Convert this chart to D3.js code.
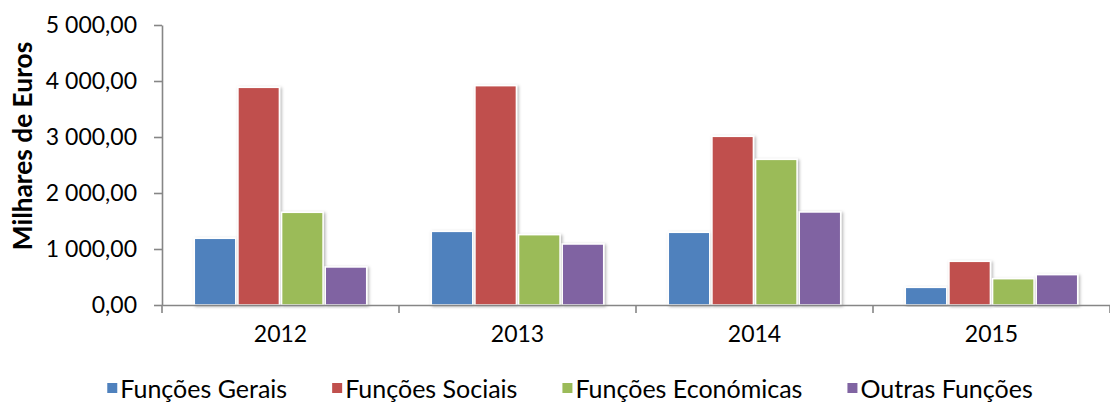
<!DOCTYPE html>
<html>
<head>
<meta charset="utf-8">
<script src="https://cdn.jsdelivr.net/npm/d3@7"></script>
<style>
  body { margin: 0; background: #fff; }
  text { font-family: Lato, "Open Sans", sans-serif; fill: #000; }
</style>
</head>
<body>
<div class="chart"></div>
<script>
var years = ["2012", "2013", "2014", "2015"];
var series = ["Funções Gerais", "Funções Sociais", "Funções Económicas", "Outras Funções"];
var colors = ["#4F81BD", "#C0504D", "#9BBB59", "#8064A2"];
var geraisValues = [1191, 1315, 1298, 315];
var sociaisValues = [3887, 3917, 3012, 780];
var economicasValues = [1655, 1256, 2601, 470];
var outrasValues = [679, 1089, 1661, 542];
var yTicks = [0, 1000, 2000, 3000, 4000, 5000];

var values = [geraisValues, sociaisValues, economicasValues, outrasValues];

var width = 1110, height = 405;
var margin = { top: 25, right: 0, bottom: 100, left: 162 };

var svg = d3.select('.chart')
  .append('svg')
    .attr('width', width)
    .attr('height', height);

var defs = svg.append('defs');
var shadow = defs.append('filter')
    .attr('id', 'shadow')
    .attr('x', '-20%').attr('y', '-10%')
    .attr('width', '140%').attr('height', '120%');
shadow.append('feDropShadow')
    .attr('dx', 1.5).attr('dy', 1)
    .attr('stdDeviation', 1.6)
    .attr('flood-color', '#000')
    .attr('flood-opacity', 0.3);

var pt = d3.formatLocale({ decimal: ",", thousands: " ", grouping: [3], currency: ["", " €"] });
var fmt = pt.format(",.2f");

var xScale = d3.scaleBand()
    .domain(years)
    .range([margin.left, width - margin.right]);

var xSeries = d3.scaleBand()
    .domain(series)
    .range([0, xScale.bandwidth()])
    .paddingInner(0.05)
    .paddingOuter(0.74);

var yScale = d3.scaleLinear()
    .domain([0, 5000])
    .range([height - margin.bottom, margin.top]);

// bars
var groups = svg.append('g').selectAll('g')
  .data(years)
  .join('g')
    .attr('transform', function(d) { return `translate(${xScale(d)}, 0)`; });

groups.selectAll('rect')
  .data(function(d, i) { return series.map(function(s, j) { return { s: s, j: j, v: values[j][i] }; }); })
  .join('rect')
    .attr('x', function(d) { return xSeries(d.s); })
    .attr('y', function(d) { return yScale(d.v); })
    .attr('width', xSeries.bandwidth())
    .attr('height', function(d) { return yScale(0) - yScale(d.v); })
    .attr('fill', function(d) { return colors[d.j]; })
    .attr('stroke', '#fff')
    .attr('stroke-width', 1.5)
    .attr('filter', 'url(#shadow)');

// y axis
var yAxis = d3.axisLeft(yScale)
    .tickValues(yTicks)
    .tickFormat(fmt)
    .tickSize(8)
    .tickSizeOuter(0)
    .tickPadding(17);

var gy = svg.append('g')
    .attr('transform', `translate(${margin.left}, 0)`)
    .call(yAxis);
gy.selectAll('text').style('font-size', '23px');

// x axis: line + ticks at category edges, labels in middle
var xAxis = d3.axisBottom(xScale)
    .tickSize(0)
    .tickSizeOuter(0)
    .tickPadding(21);

var gx = svg.append('g')
    .attr('transform', `translate(0, ${yScale(0)})`)
    .call(xAxis);
gx.selectAll('text').style('font-size', '23px');

var edges = years.map(function(d) { return xScale(d); }).concat([xScale.range()[1]]);
gx.selectAll('line.edge')
  .data(edges)
  .join('line')
    .attr('class', 'edge')
    .attr('x1', function(d) { return d; })
    .attr('x2', function(d) { return d; })
    .attr('y1', 0)
    .attr('y2', 8);

svg.selectAll('.domain, .tick line, line.edge')
    .attr('stroke', '#868686')
    .attr('stroke-width', 1.6);

// axis title
svg.append('text')
    .attr('transform', 'translate(32, 146) rotate(-90)')
    .attr('text-anchor', 'middle')
    .style('font-size', '26.3px')
    .style('font-weight', 'bold')
    .text('Milhares de Euros');

// legend
var legend = svg.append('g');
var items = legend.selectAll('g')
  .data(series)
  .join('g');
items.append('rect')
    .attr('y', -15)
    .attr('width', 10)
    .attr('height', 10)
    .attr('fill', function(d, i) { return colors[i]; });
items.append('text')
    .attr('x', 13)
    .style('font-size', '25px')
    .text(function(d) { return d; });

var pos = 0;
items.each(function() {
  var w = this.getBBox().width;
  d3.select(this).attr('transform', `translate(${pos}, 0)`);
  pos += w + 45;
});
var total = pos - 45;
legend.attr('transform', `translate(${570 - total / 2}, 398)`);
</script>
</body>
</html>
